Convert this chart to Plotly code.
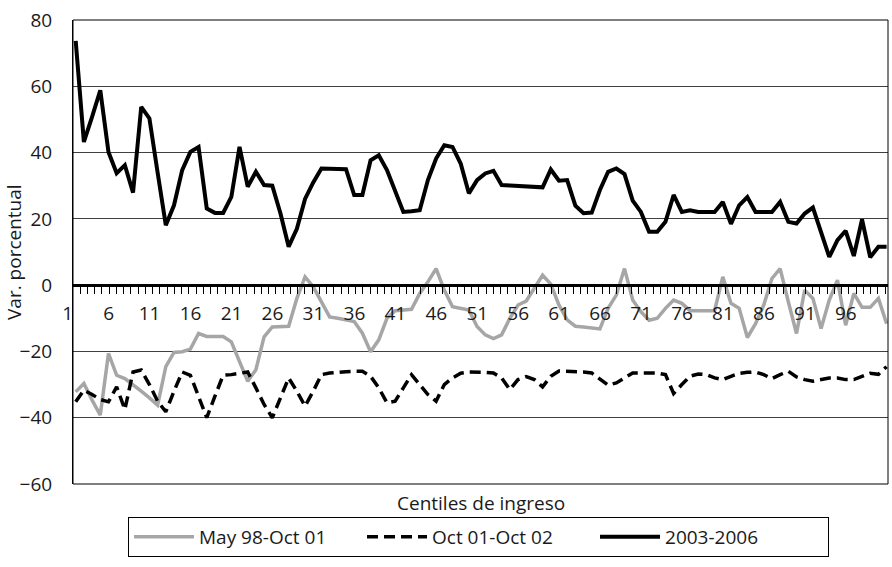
import plotly.graph_objects as go

centiles = list(range(1, 101))

may98_oct01 = [
    -32.2, -29.7, -34.7, -39.2, -20.6, -27.2, -28.2, -30.0, -32.0, -34.0,
    -36.2, -24.6, -20.3, -20.1, -19.3, -14.6, -15.5, -15.5, -15.5, -17.1,
    -23.0, -29.0, -25.5, -15.6, -12.6, -12.5, -12.4, -4.0, 2.5, -0.5,
    -5.0, -9.6, -10.0, -10.5, -11.0, -14.5, -20.1, -16.5, -10.0, -7.7,
    -7.6, -7.3, -2.5, 1.0, 5.0, -1.5, -6.5, -7.0, -7.5, -12.5,
    -15.0, -16.1, -15.0, -10.0, -6.0, -4.8, -1.0, 3.0, 0.3, -6.0,
    -10.5, -12.4, -12.6, -12.8, -13.2, -7.0, -3.0, 5.0, -4.5, -8.0,
    -10.6, -10.0, -7.0, -4.5, -5.5, -7.7, -7.7, -7.7, -7.7, 2.5,
    -5.5, -7.0, -15.8, -11.6, -6.0, 2.0, 5.0, -5.0, -14.6, -1.5,
    -4.0, -13.1, -4.5, 1.5, -12.1, -2.5, -6.7, -6.7, -4.0, -11.6,
]

oct01_oct02 = [
    -35.2, -31.7, -33.0, -34.5, -35.2, -30.7, -37.5, -26.2, -25.6, -30.0,
    -35.0, -38.2, -32.0, -26.2, -27.2, -33.5, -40.0, -33.5, -27.2, -27.0,
    -26.5, -26.2, -31.0, -36.0, -40.0, -34.0, -28.0, -32.0, -36.5, -32.0,
    -27.0, -26.5, -26.2, -26.1, -26.0, -26.0, -27.5, -31.0, -35.5, -35.0,
    -31.0, -27.0, -30.0, -33.0, -35.0, -30.0, -28.0, -26.6, -26.2, -26.2,
    -26.3, -26.5, -28.0, -31.5, -28.5, -27.6, -28.5, -30.7, -27.5, -25.9,
    -26.0, -26.0, -26.2, -26.5, -28.5, -30.2, -29.5, -28.0, -26.5, -26.5,
    -26.5, -26.5, -27.0, -32.7, -30.0, -27.5, -26.8, -27.0, -28.0, -28.5,
    -27.5, -26.6, -26.3, -26.2, -27.0, -28.2, -27.0, -26.0, -27.7, -28.5,
    -29.0, -28.5, -28.0, -28.0, -28.5, -28.5, -27.5, -26.6, -26.9, -24.6,
]

y2003_2006 = [
    73.7, 43.2, 50.8, 58.8, 40.2, 33.8, 36.2, 27.9, 53.8, 50.3,
    34.0, 18.1, 24.1, 34.7, 40.2, 41.7, 23.1, 21.8, 21.8, 26.6,
    41.7, 29.7, 34.2, 30.2, 30.0, 21.6, 11.6, 17.0, 26.0, 31.0,
    35.2, 35.2, 35.2, 35.0, 27.2, 27.2, 37.7, 39.2, 34.7, 28.0,
    22.1, 22.3, 22.6, 31.7, 38.2, 42.2, 41.7, 36.7, 27.7, 31.7,
    33.7, 34.5, 30.2, 30.1, 29.9, 29.8, 29.6, 29.5, 34.9, 31.5,
    31.7, 24.0, 21.7, 21.9, 28.7, 34.2, 35.2, 33.5, 25.5, 22.1,
    16.1, 16.1, 19.1, 27.2, 22.1, 22.6, 22.1, 22.0, 22.1, 25.1,
    18.5, 24.1, 26.6, 22.1, 22.1, 22.1, 25.1, 19.1, 18.6, 21.6,
    23.4, 16.0, 8.5, 13.6, 16.4, 8.8, 19.8, 8.4, 11.6, 11.6,
]

series_names = ["May 98-Oct 01", "Oct 01-Oct 02", "2003-2006"]
x_tick_labels = [1, 6, 11, 16, 21, 26, 31, 36, 41, 46, 51, 56, 61, 66, 71, 76, 81, 86, 91, 96]
y_tick_values = [-60, -40, -20, 0, 20, 40, 60, 80]

FONT = "'Open Sans', Lato, sans-serif"
TXT = "#1a1a1a"
FS = 19

fig = go.Figure()
fig.add_trace(go.Scatter(x=centiles, y=may98_oct01, mode="lines", name=series_names[0],
                         line=dict(color="#a6a6a6", width=3.5)))
fig.add_trace(go.Scatter(x=centiles, y=oct01_oct02, mode="lines", name=series_names[1],
                         line=dict(color="black", width=3.5, dash="11px,6px")))
fig.add_trace(go.Scatter(x=centiles, y=y2003_2006, mode="lines", name=series_names[2],
                         line=dict(color="black", width=4)))

fig.update_layout(
    width=892, height=567,
    margin=dict(l=73, r=4, t=20, b=83, autoexpand=False),
    paper_bgcolor="white", plot_bgcolor="white",
    font=dict(family=FONT, size=FS, color=TXT),
    showlegend=True,
    legend=dict(orientation="h", x=0.0675, xanchor="left", y=-0.071, yanchor="top",
                bordercolor="black", borderwidth=1, entrywidth=158, itemwidth=60,
                font=dict(family=FONT, size=FS, color=TXT),
                bgcolor="white"),
    xaxis=dict(
        range=[0.67, 100.17], automargin=False,
        anchor="free", position=60 / 140,
        showgrid=False, zeroline=False,
        showline=True, linecolor="black", linewidth=2.5,
        tickmode="array", tickvals=x_tick_labels, ticktext=[str(v) for v in x_tick_labels],
        ticks="", ticklabelshift=-8, ticklabelstandoff=10, ticklabeloverflow="allow",
        tickfont=dict(family=FONT, size=FS, color=TXT),
        minor=dict(tickmode="linear", tick0=1.525, dtick=0.8855, ticks="outside",
                   ticklen=7, tickwidth=1, tickcolor="black", showgrid=False),
    ),
    yaxis=dict(
        range=[-60, 80], tickmode="array", tickvals=y_tick_values, automargin=False,
        showgrid=True, gridcolor="#404040", gridwidth=1,
        zeroline=True, zerolinecolor="black", zerolinewidth=2.5,
        showline=True, linecolor="black", linewidth=1,
        ticks="", ticklabelstandoff=16, ticklabeloverflow="allow",
        tickfont=dict(family=FONT, size=FS, color=TXT),
    ),
    shapes=[dict(type="rect", xref="paper", yref="paper", x0=0, x1=1, y0=0, y1=1,
                 line=dict(color="black", width=1), layer="above")],
    annotations=[
        dict(text="Centiles de ingreso", xref="paper", yref="paper",
             x=0.5, y=-0.041, xanchor="center", yanchor="middle", showarrow=False,
             font=dict(family=FONT, size=FS, color=TXT)),
        dict(text="Var. porcentual", xref="paper", yref="paper", textangle=-90,
             x=0, xshift=-59, y=0.5, xanchor="center", yanchor="middle", showarrow=False,
             font=dict(family=FONT, size=FS, color=TXT)),
    ],
)

# remove the default 8px page margin so the figure fills the window exactly
fig.write_html("out.html", config={"displayModeBar": False},
               post_script="document.body.style.margin='0';")
